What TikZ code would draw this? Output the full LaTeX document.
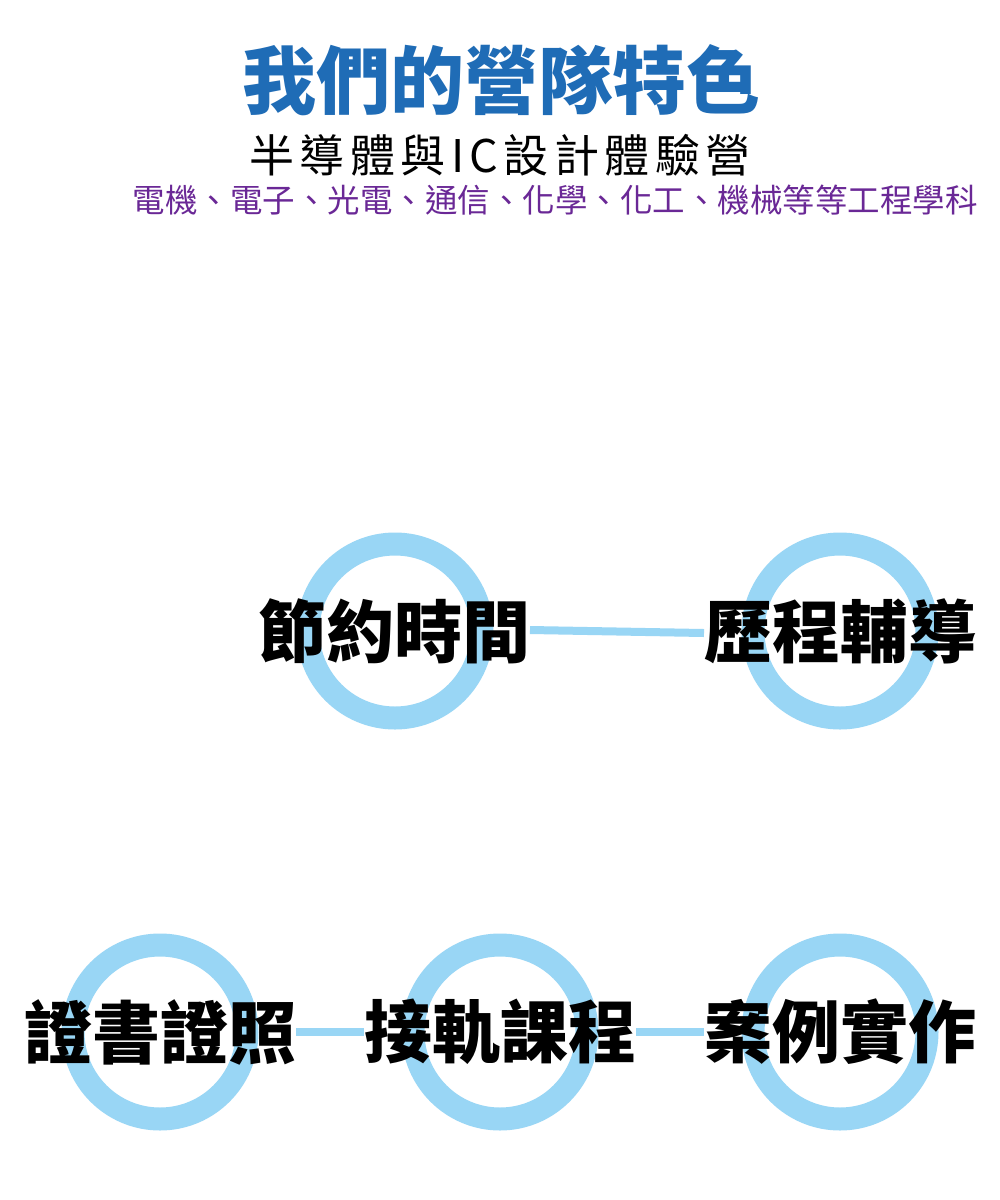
\documentclass[tikz,border=0pt]{standalone}
\usepackage{fontspec}
\newfontfamily\cjk{Noto Sans CJK TC}
\newfontfamily\cjkspaced{Noto Sans CJK TC}[LetterSpace=12]
\definecolor{ringblue}{RGB}{153,214,245}
\definecolor{titleblue}{RGB}{31,108,182}
\definecolor{subpurple}{RGB}{106,40,150}
\pgfdeclarelayer{background}
\pgfsetlayers{background,main}
\tikzset{
  ring/.style={circle, draw=ringblue, line width=23pt, minimum size=174pt, inner sep=0pt, outer sep=0pt},
  label text/.style={font=\cjk\bfseries\fontsize{68}{72}\selectfont, inner sep=0pt, outer sep=0pt, text=black},
  link/.style={draw=ringblue, line width=8pt}
}
\begin{document}
\begin{tikzpicture}[x=1pt,y=-1pt]
\useasboundingbox (0,0) rectangle (1000,1200);
% titles
\node[font=\cjk\bfseries\fontsize{74}{78}\selectfont, text=titleblue, inner sep=0pt] (title) at (501,80) {我們的營隊特色};
\node[font=\cjkspaced\fontsize{45}{48}\selectfont, text=black, inner sep=0pt] (sub) at (500,155) {半導體與IC設計體驗營};
\node[font=\cjk\fontsize{32.5}{34}\selectfont, text=subpurple, inner sep=0pt] (fields) at (555,200) {電機、電子、光電、通信、化學、化工、機械等等工程學科};
% text nodes
\node[label text] (t1) at (394,631) {節約時間};
\node[label text] (t2) at (840,631) {歷程輔導};
\node[label text] (t3) at (160,1032) {證書證照};
\node[label text] (t4) at (500,1032) {接軌課程};
\node[label text] (t5) at (840,1032) {案例實作};
\begin{pgfonlayer}{background}
\fill[white] (0,0) rectangle (1000,1200);
% rings
\node[ring] (r1) at (395,631) {};
\node[ring] (r2) at (840,631) {};
\node[ring] (r3) at (160,1032) {};
\node[ring] (r4) at (500,1032) {};
\node[ring] (r5) at (840,1032) {};
% connectors
\path[link] ([yshift=1pt]t1.east) -- ([yshift=-2pt]t2.west);
\path[link] (t3.east) -- (t4.west);
\path[link] (t4.east) -- (t5.west);
\end{pgfonlayer}
\end{tikzpicture}
\end{document}
